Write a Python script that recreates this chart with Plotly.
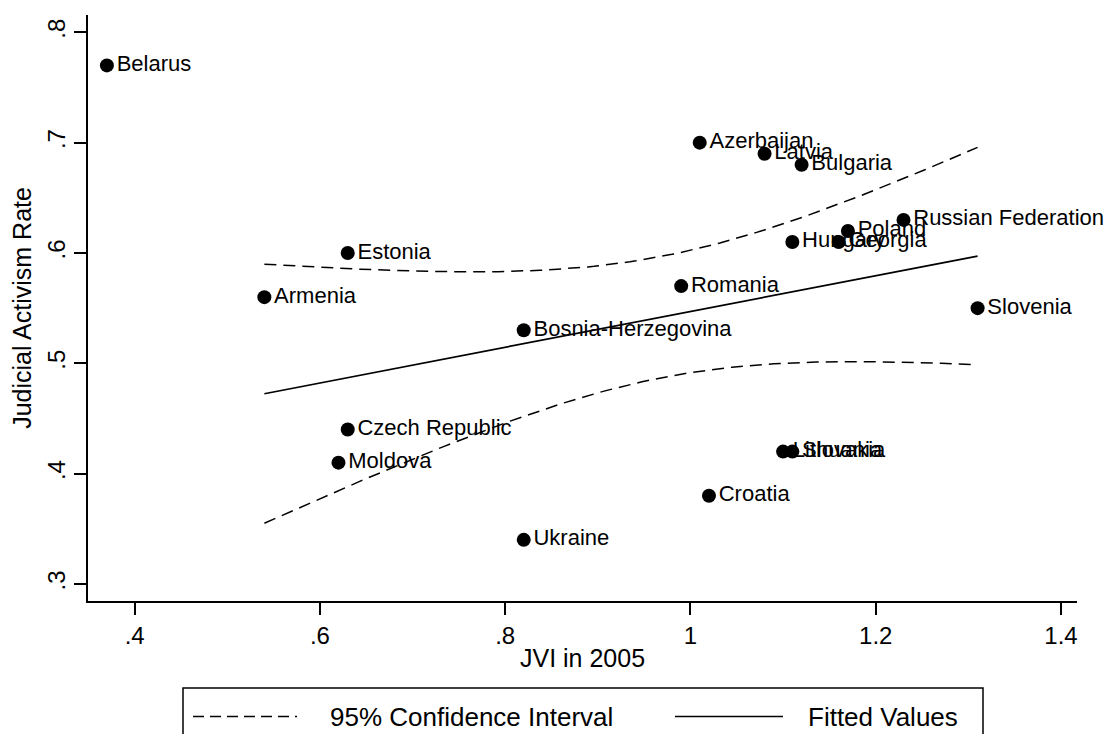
import numpy as np
import plotly.graph_objects as go

# ---------------- data ----------------
countries = ["Belarus", "Azerbaijan", "Latvia", "Bulgaria", "Russian Federation",
             "Poland", "Georgia", "Hungary", "Estonia", "Armenia", "Romania",
             "Slovenia", "Bosnia-Herzegovina", "Czech Republic", "Moldova",
             "Lithuania", "Slovakia", "Croatia", "Ukraine"]
jvi_2005 = [0.37, 1.01, 1.08, 1.12, 1.23,
            1.17, 1.16, 1.11, 0.63, 0.54, 0.99,
            1.31, 0.82, 0.63, 0.62,
            1.10, 1.11, 1.02, 0.82]
activism_rate = [0.77, 0.70, 0.69, 0.68, 0.63,
                 0.62, 0.61, 0.61, 0.60, 0.56, 0.57,
                 0.55, 0.53, 0.44, 0.41,
                 0.42, 0.42, 0.38, 0.34]
excluded_from_fit = ["Belarus"]

x_ticks = [0.4, 0.6, 0.8, 1.0, 1.2, 1.4]
x_tick_labels = [".4", ".6", ".8", "1", "1.2", "1.4"]
y_ticks = [0.3, 0.4, 0.5, 0.6, 0.7, 0.8]
y_tick_labels = [".3", ".4", ".5", ".6", ".7", ".8"]

legend_labels = ["95% Confidence Interval", "Fitted Values"]

# ---------------- linear fit with 95% CI (Stata lfitci style) ----------------
fx = np.array([x for c, x in zip(countries, jvi_2005) if c not in excluded_from_fit])
fy = np.array([y for c, y in zip(countries, activism_rate) if c not in excluded_from_fit])
n = len(fx)
b, a = np.polyfit(fx, fy, 1)
resid = fy - (a + b * fx)
s = np.sqrt(np.sum(resid ** 2) / (n - 2))
t_crit = 2.119905  # t(0.975, df=16)
xbar = fx.mean()
sxx = np.sum((fx - xbar) ** 2)
grid = np.linspace(fx.min(), fx.max(), 120)
fit = a + b * grid
half = t_crit * s * np.sqrt(1.0 / n + (grid - xbar) ** 2 / sxx)

FONT = "Arial, Liberation Sans, Helvetica, sans-serif"
DASH = "12px,7px"

fig = go.Figure()
fig.add_trace(go.Scatter(x=grid, y=fit + half, mode="lines",
                         line=dict(color="black", width=1.5, dash=DASH),
                         showlegend=False, hoverinfo="skip"))
fig.add_trace(go.Scatter(x=grid, y=fit - half, mode="lines",
                         line=dict(color="black", width=1.5, dash=DASH),
                         showlegend=False, hoverinfo="skip"))
fig.add_trace(go.Scatter(x=grid, y=fit, mode="lines",
                         line=dict(color="black", width=1.7),
                         showlegend=False, hoverinfo="skip"))
fig.add_trace(go.Scatter(x=jvi_2005, y=activism_rate, mode="markers+text",
                         text=countries, textposition="middle right",
                         textfont=dict(family=FONT, size=22, color="black"),
                         marker=dict(color="black", size=14),
                         showlegend=False, cliponaxis=False))

# ---------------- legend (drawn as a box below the plot) ----------------
# figure is placed by the page at an 8px offset; positions below are screen px
OFF = 8
L, T, W, H = 88 - OFF, 15 - OFF, 1096, 726
PLOT_R, PLOT_B = 1077 - OFF, 601 - OFF
PW, PH = PLOT_R - L, PLOT_B - T


def px_x(px):
    return (px - OFF - L) / PW


def px_y(py):
    return (PLOT_B - (py - OFF)) / PH


ly = px_y(716.5)
shapes = [
    dict(type="rect", xref="paper", yref="paper", x0=px_x(183), x1=px_x(983),
         y0=px_y(688), y1=px_y(760), line=dict(color="black", width=1.5),
         fillcolor="rgba(0,0,0,0)"),
    dict(type="line", xref="paper", yref="paper", x0=px_x(193), x1=px_x(297),
         y0=ly, y1=ly, line=dict(color="black", width=1.5, dash="11px,6px")),
    dict(type="line", xref="paper", yref="paper", x0=px_x(675), x1=px_x(783),
         y0=ly, y1=ly, line=dict(color="black", width=1.7)),
]
annotations = [
    dict(xref="paper", yref="paper", x=px_x(471), y=ly, text=legend_labels[0],
         showarrow=False, xanchor="center", yanchor="middle",
         font=dict(family=FONT, size=26, color="black")),
    dict(xref="paper", yref="paper", x=px_x(883), y=ly, text=legend_labels[1],
         showarrow=False, xanchor="center", yanchor="middle",
         font=dict(family=FONT, size=26, color="black")),
]

fig.update_layout(
    width=W, height=H,
    margin=dict(l=L, r=W - PLOT_R, t=T, b=H - PLOT_B, pad=0),
    paper_bgcolor="white", plot_bgcolor="white",
    font=dict(family=FONT, color="black"),
    shapes=shapes, annotations=annotations,
    xaxis=dict(range=[0.3496, 1.4173], tickvals=x_ticks, ticktext=x_tick_labels,
               showline=True, linecolor="black", linewidth=1.5,
               ticks="outside", ticklen=12, tickwidth=1.5, tickcolor="black",
               showgrid=False, zeroline=False,
               tickfont=dict(family=FONT, size=24, color="black"),
               title=dict(text="JVI in 2005", standoff=2,
                          font=dict(family=FONT, size=25, color="black"))),
    yaxis=dict(range=[0.2846, 0.8157], tickvals=y_ticks, ticktext=y_tick_labels,
               tickangle=-90,
               showline=True, linecolor="black", linewidth=1.5,
               ticks="outside", ticklen=12, tickwidth=1.5, tickcolor="black",
               showgrid=False, zeroline=False,
               tickfont=dict(family=FONT, size=24, color="black"),
               title=dict(text="Judicial Activism Rate", standoff=4,
                          font=dict(family=FONT, size=25, color="black"))),
)

fig.write_html("out.html")
